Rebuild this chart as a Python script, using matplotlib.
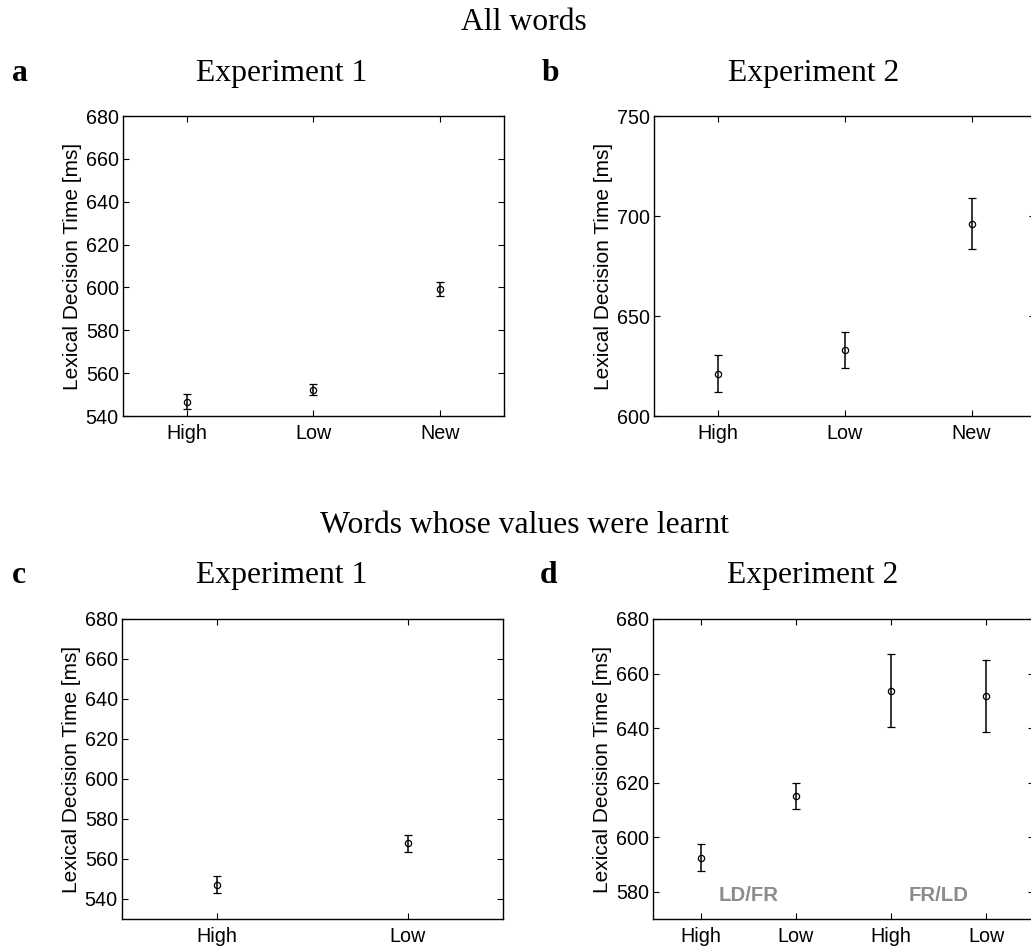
#!/usr/bin/env python3
"""Lexical decision times by word value, experiments 1 and 2 (four panels)."""

import matplotlib

matplotlib.use("Agg")
import matplotlib.pyplot as plt
import numpy as np

# --- data -------------------------------------------------------------------
labels_all = ["High", "Low", "New"]
exp1_all_mean = [546.7, 552.3, 599.3]
exp1_all_err = [3.6, 2.7, 3.4]
exp2_all_mean = [621.1, 633.0, 696.2]
exp2_all_err = [9.2, 9.2, 12.6]

labels_learnt1 = ["High", "Low"]
exp1_learnt_mean = [547.2, 567.8]
exp1_learnt_err = [4.2, 4.1]

labels_learnt2 = ["High", "Low", "High", "Low"]
exp2_learnt_mean = [592.5, 615.1, 653.7, 651.6]
exp2_learnt_err = [4.9, 4.9, 13.3, 13.2]
order_labels = ["LD/FR", "FR/LD"]

W, H, DPI = 1031, 949, 100
SERIF = "Liberation Serif"
SANS = "Liberation Sans"


def px_axes(fig, left, top, width, height):
    return fig.add_axes([left / W, 1 - (top + height) / H, width / W, height / H])


def panel(ax, labels, means, errs, ylim, yticks):
    x = np.arange(1, len(labels) + 1)
    ax.errorbar(x, means, yerr=errs, fmt="o", color="black", ms=4.5, mfc="none",
                mew=0.9, elinewidth=1.1, capsize=3, capthick=1.1)
    ax.set_xlim(0.5, len(labels) + 0.5)
    ax.set_ylim(*ylim)
    ax.set_xticks(x, labels)
    ax.set_yticks(yticks)
    ax.tick_params(direction="in", top=True, right=True, length=4, width=0.8,
                   labelsize=14.2, pad=3)
    ax.tick_params(axis="x", pad=6)
    for lab in ax.get_xticklabels() + ax.get_yticklabels():
        lab.set_fontfamily(SANS)
    for sp in ax.spines.values():
        sp.set_linewidth(1.0)
    ax.set_ylabel("Lexical Decision Time [ms]", fontsize=15, family=SANS, labelpad=3)


def head(fig, x, y, text, bold=False, size=22.8):
    fig.text(x / W, 1 - y / H, text, family=SERIF, fontsize=size,
             fontweight="bold" if bold else "normal", ha="left" if bold else "center",
             va="baseline")


def main():
    fig = plt.figure(figsize=(W / DPI, H / DPI), dpi=DPI)

    ax_a = px_axes(fig, 123, 116, 381, 300)
    panel(ax_a, labels_all, exp1_all_mean, exp1_all_err, (540, 680), np.arange(540, 681, 20))
    ax_b = px_axes(fig, 654, 116, 381, 300)
    panel(ax_b, labels_all, exp2_all_mean, exp2_all_err, (600, 750), np.arange(600, 751, 50))
    ax_c = px_axes(fig, 122, 619, 381, 300)
    panel(ax_c, labels_learnt1, exp1_learnt_mean, exp1_learnt_err, (530, 680),
          np.arange(540, 681, 20))
    ax_d = px_axes(fig, 653, 619, 381, 300)
    panel(ax_d, labels_learnt2, exp2_learnt_mean, exp2_learnt_err, (570, 680),
          np.arange(580, 681, 20))
    for xpos, txt in zip([1.5, 3.5], order_labels):
        ax_d.text(xpos, 578.5, txt, ha="center", va="center", color="#8c8c8c",
                  fontsize=14.7, fontweight="bold", family=SANS)

    head(fig, 524, 30, "All words")
    head(fig, 524, 533, "Words whose values were learnt")
    head(fig, 282, 81, "Experiment 1")
    head(fig, 814, 81, "Experiment 2")
    head(fig, 282, 583, "Experiment 1")
    head(fig, 813, 583, "Experiment 2")
    head(fig, 12, 81, "a", bold=True)
    head(fig, 542, 81, "b", bold=True)
    head(fig, 12, 583, "c", bold=True)
    head(fig, 540, 583, "d", bold=True)

    fig.savefig("out.png", dpi=DPI)
    plt.close(fig)


if __name__ == "__main__":
    main()
